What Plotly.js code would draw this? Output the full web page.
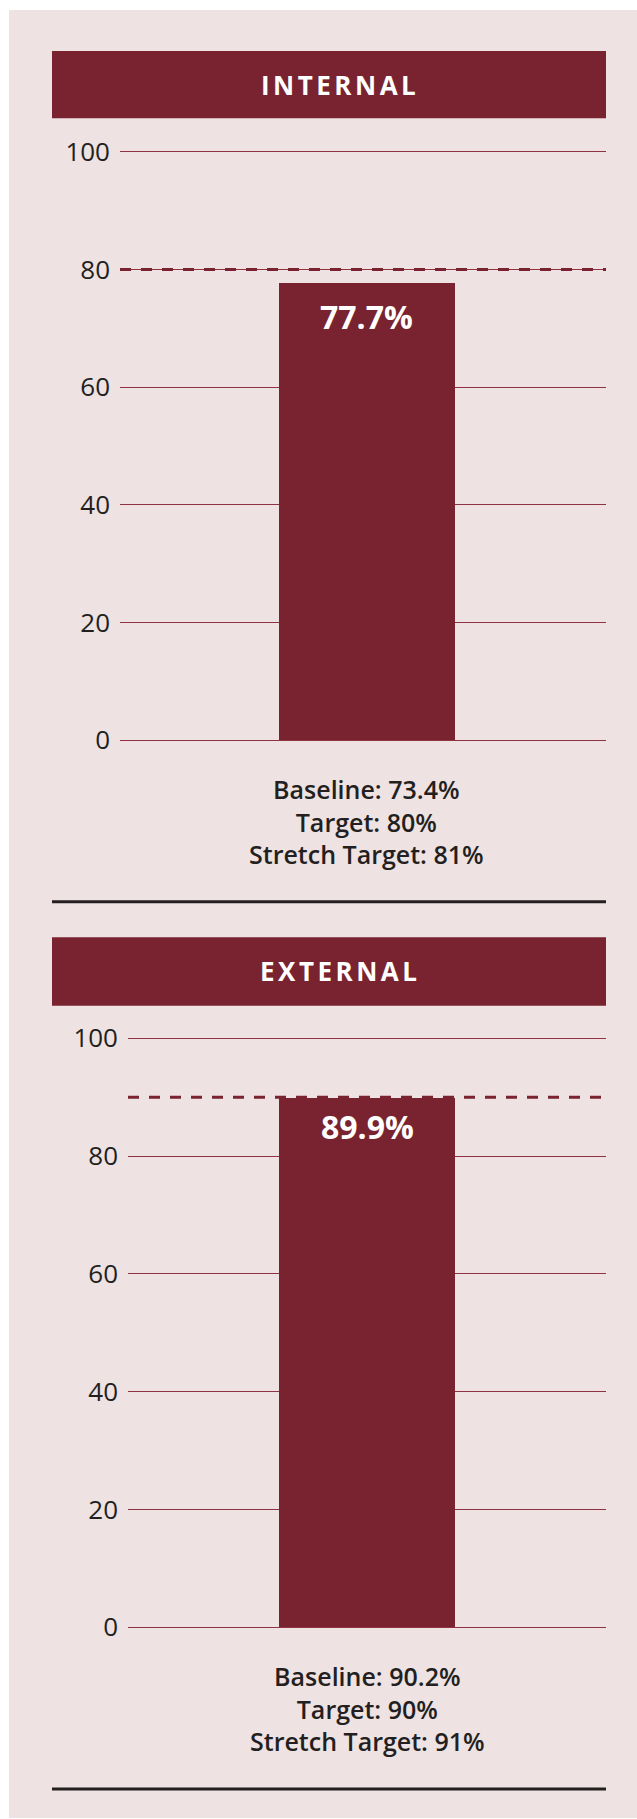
<!DOCTYPE html>
<html>
<head>
<meta charset="utf-8">
<script src="https://cdn.plot.ly/plotly-3.0.1.min.js"></script>
<style>
  html, body { margin: 0; padding: 0; background: #ffffff; }
  #chart { width: 637px; height: 1819px; }
</style>
</head>
<body>
<div id="chart"></div>
<script>
// ---- data ----
const categories = ['INTERNAL', 'EXTERNAL'];
const values = [77.7, 89.9];
const baselines = [73.4, 90.2];
const targets = [80, 90];
const stretchTargets = [81, 91];
const tickVals = [0, 20, 40, 60, 80, 100];

// ---- style ----
const W = 637, H = 1819;
const RED = '#7A2330';
const GRID = '#8F3342';
const INK = '#231F20';
const PANEL = '#EEE2E2';
const py = p => 1 - p / H;   // pixel-from-top -> paper
const px = p => p / W;
const PAD = 0.5;              // small range padding so edge gridlines show
const u1 = (740.3 - 151.7) / 100, u2 = (1627.3 - 1038.3) / 100;

const traces = categories.map((c, i) => ({
  type: 'bar',
  x: [c],
  y: [values[i]],
  xaxis: i === 0 ? 'x' : 'x2',
  yaxis: i === 0 ? 'y' : 'y2',
  width: i === 0 ? 0.361 : 0.367,
  marker: { color: RED, line: { width: 0 } },
  hoverinfo: 'skip',
  showlegend: false
}));

const yBase = {
  range: [-PAD, 100 + PAD],
  tickvals: tickVals,
  ticktext: tickVals.map(String),
  showgrid: true,
  gridcolor: GRID,
  gridwidth: 1,
  zeroline: false,
  showline: false,
  ticks: '',
  ticklabelstandoff: 9,
  tickfont: { family: 'Open Sans', size: 26, color: INK },
  fixedrange: true
};
const xBase = {
  type: 'category',
  showticklabels: false,
  showgrid: false,
  zeroline: false,
  showline: false,
  ticks: '',
  fixedrange: true
};

const noteText = i => 'Baseline: ' + baselines[i] + '%<br>Target: ' + targets[i] +
  '%<br>Stretch Target: ' + stretchTargets[i] + '%';

const layout = {
  width: W,
  height: H,
  margin: { l: 0, r: 0, t: 0, b: 0 },
  paper_bgcolor: '#ffffff',
  plot_bgcolor: 'rgba(0,0,0,0)',
  showlegend: false,
  bargap: 0,
  xaxis: Object.assign({}, xBase, { domain: [px(120), px(606)], range: [-0.508, 0.492], anchor: 'y' }),
  yaxis: Object.assign({}, yBase, { domain: [py(740.3 + PAD * u1), py(151.7 - PAD * u1)], anchor: 'x' }),
  xaxis2: Object.assign({}, xBase, { domain: [px(128), px(606)], range: [-0.5, 0.5], anchor: 'y2' }),
  yaxis2: Object.assign({}, yBase, { domain: [py(1627.3 + PAD * u2), py(1038.3 - PAD * u2)], anchor: 'x2' }),
  shapes: [
    // panel background
    { type: 'rect', xref: 'paper', yref: 'paper', x0: px(9), x1: 1, y0: py(1818), y1: py(10),
      fillcolor: PANEL, line: { width: 0 }, layer: 'below' },
    // title bars
    { type: 'rect', xref: 'paper', yref: 'paper', x0: px(52), x1: px(606), y0: py(118.3), y1: py(51),
      fillcolor: RED, line: { width: 0 }, layer: 'below' },
    { type: 'rect', xref: 'paper', yref: 'paper', x0: px(52), x1: px(606), y0: py(1005.7), y1: py(937.3),
      fillcolor: RED, line: { width: 0 }, layer: 'below' },
    // separators
    { type: 'line', xref: 'paper', yref: 'paper', x0: px(52), x1: px(606), y0: py(901.7), y1: py(901.7),
      line: { color: INK, width: 3 } },
    { type: 'line', xref: 'paper', yref: 'paper', x0: px(52), x1: px(606), y0: py(1789), y1: py(1789),
      line: { color: INK, width: 3 } },
    // target dashed lines
    { type: 'line', xref: 'x domain', yref: 'y', x0: 0, x1: 1, y0: targets[0], y1: targets[0],
      line: { color: RED, width: 3, dash: '11px,10px' }, layer: 'above' },
    { type: 'line', xref: 'x2 domain', yref: 'y2', x0: 0, x1: 1, y0: targets[1], y1: targets[1],
      line: { color: RED, width: 3, dash: '11px,10px' }, layer: 'above' }
  ],
  annotations: [
    { xref: 'paper', yref: 'paper', x: px(340), y: py(84.6), xanchor: 'center', yanchor: 'middle',
      text: categories[0], showarrow: false,
      font: { family: 'Open Sans', size: 26, color: '#ffffff', weight: 700 } },
    { xref: 'paper', yref: 'paper', x: px(340), y: py(971.5), xanchor: 'center', yanchor: 'middle',
      text: categories[1], showarrow: false,
      font: { family: 'Open Sans', size: 26, color: '#ffffff', weight: 700 } },
    { xref: 'x', yref: 'y', x: categories[0], y: values[0], yshift: -34, xanchor: 'center', yanchor: 'middle',
      text: values[0].toFixed(1) + '%', showarrow: false,
      font: { family: 'Open Sans', size: 32, color: '#ffffff', weight: 700 } },
    { xref: 'x2', yref: 'y2', x: categories[1], y: values[1], yshift: -29, xanchor: 'center', yanchor: 'middle',
      text: values[1].toFixed(1) + '%', showarrow: false,
      font: { family: 'Open Sans', size: 32, color: '#ffffff', weight: 700 } },
    { xref: 'x', yref: 'y', x: categories[0], y: 0, yshift: -30, xanchor: 'center', yanchor: 'top',
      text: noteText(0), showarrow: false, align: 'center',
      font: { family: 'Open Sans', size: 25, color: INK, weight: 600 } },
    { xref: 'x2', yref: 'y2', x: categories[1], y: 0, yshift: -30, xanchor: 'center', yanchor: 'top',
      text: noteText(1), showarrow: false, align: 'center',
      font: { family: 'Open Sans', size: 25, color: INK, weight: 600 } }
  ]
};

Plotly.newPlot('chart', traces, layout, { displayModeBar: false, staticPlot: true }).then(() => {
  document.querySelectorAll('.annotation-text').forEach(t => {
    if (categories.indexOf(t.textContent) >= 0) {
      t.style.letterSpacing = '3.5px';
    }
  });
});
</script>
</body>
</html>
